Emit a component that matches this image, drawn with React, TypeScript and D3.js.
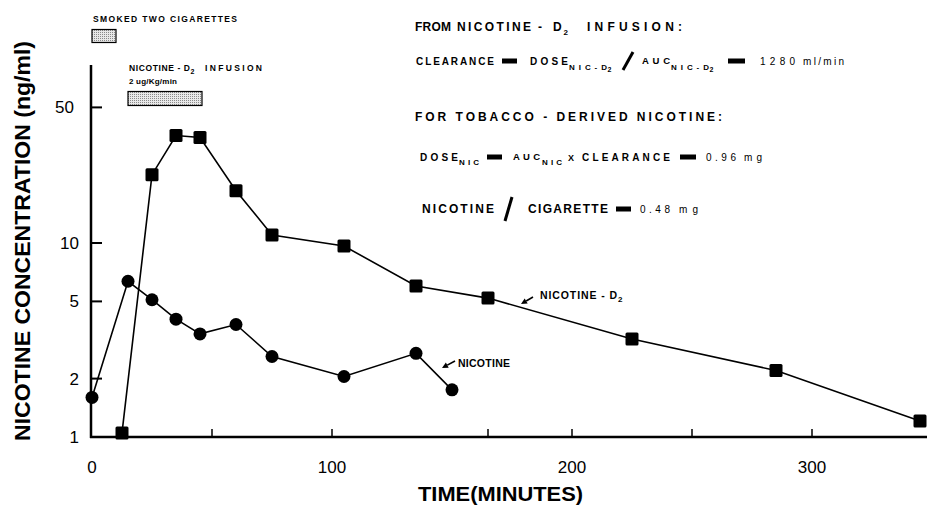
import React from "react";
import * as d3 from "d3";

// ---- data ----
const nicotineTimes = [0, 15, 25, 35, 45, 60, 75, 105, 135, 150];
const nicotineValues = [1.6, 6.35, 5.1, 4.05, 3.4, 3.8, 2.6, 2.05, 2.7, 1.75];

const d2Times = [12.5, 25, 35, 45, 60, 75, 105, 135, 165, 225, 285, 345];
const d2Values = [1.05, 22.5, 35.8, 35, 18.6, 11.0, 9.65, 6.0, 5.2, 3.2, 2.2, 1.21];

const xTickValues = [50, 100, 165, 200, 250, 300];
const xTickLabels = [0, 100, 200, 300];
const yTickValues = [2, 5, 10, 50];
const yTickLabels = [1, 2, 5, 10, 50];

const smokingInterval = [0, 10];
const infusionInterval = [15, 45];

const FONT = "'Liberation Sans', Arial, Helvetica, sans-serif";

const x = d3.scaleLinear().domain([0, 300]).range([92, 812]);
const y = d3.scaleLog().domain([1, 10]).range([437, 243]);

function T(
  text: string,
  x0: number,
  x1: number,
  yb: number,
  size = 10,
  weight: string = "bold",
  key?: string,
  adjust: string = "spacing"
) {
  return (
    <text
      key={key ?? text + x0 + yb}
      x={x0}
      y={yb}
      textLength={x1 - x0}
      lengthAdjust={adjust}
      fontSize={size}
      fontWeight={weight}
      fontFamily={FONT}
      fill="#000"
    >
      {text}
    </text>
  );
}
function Bar(x0: number, x1: number, cy: number) {
  return <rect key={"b" + x0 + cy} x={x0} y={cy - 2.5} width={x1 - x0} height={5} fill="#000" />;
}
function Slash(x0: number, x1: number, yb: number, yt: number) {
  return (
    <line key={"s" + x0 + yb} x1={x0} y1={yb} x2={x1} y2={yt} stroke="#000" strokeWidth={3} />
  );
}
function Arrow(xs: number, ys: number, xe: number, ye: number) {
  const ang = Math.atan2(ye - ys, xe - xs);
  const L = 6,
    W = 3;
  const p1 = [xe, ye];
  const bx = xe - L * Math.cos(ang),
    by = ye - L * Math.sin(ang);
  const p2 = [bx + W * Math.sin(ang), by - W * Math.cos(ang)];
  const p3 = [bx - W * Math.sin(ang), by + W * Math.cos(ang)];
  return (
    <g key={"a" + xs}>
      <line x1={xs} y1={ys} x2={bx} y2={by} stroke="#000" strokeWidth={1.6} />
      <polygon points={[p1, p2, p3].map((p) => p.join(",")).join(" ")} fill="#000" />
    </g>
  );
}

export default function App() {
  const nic = nicotineTimes.map((t, i) => [t, nicotineValues[i]] as [number, number]);
  const d2 = d2Times.map((t, i) => [t, d2Values[i]] as [number, number]);
  const line = d3
    .line<[number, number]>()
    .x((d) => x(d[0]))
    .y((d) => y(d[1]));

  const x0 = 91;
  const yBase = y(1);

  return (
    <svg
      width={927}
      height={510}
      style={{ position: "absolute", left: 0, top: 0, background: "#fff" }}
    >
      <defs>
        <pattern id="stip" width={2} height={2} patternUnits="userSpaceOnUse">
          <rect width={2} height={2} fill="#e8e8e8" />
          <rect width={1} height={1} fill="#8a8a8a" />
        </pattern>
      </defs>
      <rect width={927} height={510} fill="#fff" />

      {/* axes */}
      <line x1={x0} y1={65} x2={x0} y2={yBase + 1} stroke="#000" strokeWidth={2.5} />
      <line x1={x0 - 1} y1={yBase} x2={927} y2={yBase} stroke="#000" strokeWidth={2.5} />
      {yTickValues.map((v) => (
        <line key={"yt" + v} x1={x0} x2={x0 + 11} y1={y(v)} y2={y(v)} stroke="#000" strokeWidth={2} />
      ))}
      {xTickValues.map((v) => (
        <line key={"xt" + v} x1={x(v)} x2={x(v)} y1={yBase} y2={yBase - 8} stroke="#000" strokeWidth={1.5} />
      ))}
      {yTickLabels.map((v) => (
        <text
          key={"yl" + v}
          x={v === 50 ? 74 : 79}
          y={y(v) + 6}
          textAnchor="end"
          fontSize={17}
          fontFamily={FONT}
        >
          {v}
        </text>
      ))}
      {xTickLabels.map((v) => (
        <text key={"xl" + v} x={x(v)} y={473} textAnchor="middle" fontSize={17} fontFamily={FONT}>
          {v}
        </text>
      ))}

      {/* axis titles */}
      <text
        x={0}
        y={0}
        transform="translate(30,441) rotate(-90)"
        fontSize={22}
        fontWeight="bold"
        fontFamily={FONT}
        textLength={400}
        lengthAdjust="spacingAndGlyphs"
      >
        NICOTINE CONCENTRATION (ng/ml)
      </text>
      <text
        x={418}
        y={501}
        fontSize={21}
        fontWeight="bold"
        fontFamily={FONT}
        textLength={165}
        lengthAdjust="spacingAndGlyphs"
      >
        TIME(MINUTES)
      </text>

      {/* dosing boxes */}
      {T("SMOKED TWO CIGARETTES", 93, 237, 21.5, 8.5)}
      <rect
        x={x(smokingInterval[0])}
        y={29.5}
        width={x(smokingInterval[1]) - x(smokingInterval[0])}
        height={13}
        fill="url(#stip)"
        stroke="#000"
        strokeWidth={1.2}
      />
      {T("NICOTINE - D", 129, 190, 71, 8.5)}
      {T("2", 190.5, 195, 74, 7, "bold", "inf2")}
      {T("INFUSION", 205, 262, 71, 8.5)}
      {T("2 ug/Kg/min", 129, 177, 84, 8)}
      <rect
        x={x(infusionInterval[0])}
        y={91.5}
        width={x(infusionInterval[1]) - x(infusionInterval[0]) + 2}
        height={14}
        fill="url(#stip)"
        stroke="#000"
        strokeWidth={1.2}
      />

      {/* annotations */}
      {T("FROM", 415, 451, 31, 12)}
      {T("NICOTINE", 457, 531, 31, 12)}
      {T("-", 538, 543, 31, 12)}
      {T("D", 553, 563, 31, 12)}
      {T("2", 563.5, 569, 35, 8, "bold", "l1s")}
      {T("INFUSION:", 587, 682, 31, 12)}

      {T("CLEARANCE", 416, 494, 65, 10)}
      {Bar(502, 517, 61)}
      {T("DOSE", 530, 568, 65, 10)}
      {T("NIC-D", 569, 607, 70, 8)}
      {T("2", 607.5, 613, 72, 7, "bold", "l2a")}
      {Slash(623, 633, 70, 52)}
      {T("AUC", 642, 670, 64, 9.5)}
      {T("NIC-D", 671, 709, 70, 8, "bold", "l2n")}
      {T("2", 709.5, 715, 72, 7, "bold", "l2b")}
      {Bar(728, 745, 61)}
      {T("1280", 760, 795, 65, 10, "normal")}
      {T("ml/min", 803, 844, 65, 10, "normal")}

      {T("FOR TOBACCO - DERIVED NICOTINE:", 415, 722, 121, 12)}

      {T("DOSE", 420, 458, 161, 10)}
      {T("NIC", 459, 479, 165, 8)}
      {Bar(487, 502, 157)}
      {T("AUC", 513, 540, 160, 9.5)}
      {T("NIC", 542, 562, 165, 8, "bold", "l4n")}
      {T("X", 568, 575, 161, 9)}
      {T("CLEARANCE", 582, 670, 161, 10)}
      {Bar(680, 696, 157)}
      {T("0.96", 706, 736, 161, 10, "normal")}
      {T("mg", 744, 762, 161, 10, "normal")}

      {T("NICOTINE", 422, 494, 213, 12)}
      {Slash(505, 512, 221, 197)}
      {T("CIGARETTE", 528, 608, 213, 12)}
      {Bar(616, 631, 209)}
      {T("0.48", 640, 670, 213, 10, "normal")}
      {T("mg", 679, 698, 213, 10, "normal")}

      {/* series */}
      <path d={line(nic) ?? ""} fill="none" stroke="#000" strokeWidth={1.6} />
      <path d={line(d2) ?? ""} fill="none" stroke="#000" strokeWidth={1.6} />
      {nic.map((d, i) => (
        <circle key={"c" + i} cx={x(d[0])} cy={y(d[1])} r={6.5} fill="#000" />
      ))}
      {d2.map((d, i) => (
        <rect
          key={"q" + i}
          x={x(d[0]) - 6.5}
          y={y(d[1]) - 6.5}
          width={13}
          height={13}
          rx={1.5}
          fill="#000"
        />
      ))}

      {/* series labels */}
      {Arrow(533, 297, 521, 304)}
      {T("NICOTINE - D", 540, 617, 299, 10.5)}
      {T("2", 618, 625, 302, 8, "bold", "sl2")}
      {Arrow(455, 361, 442, 368)}
      {T("NICOTINE", 458, 510, 367, 10.5)}
    </svg>
  );
}
